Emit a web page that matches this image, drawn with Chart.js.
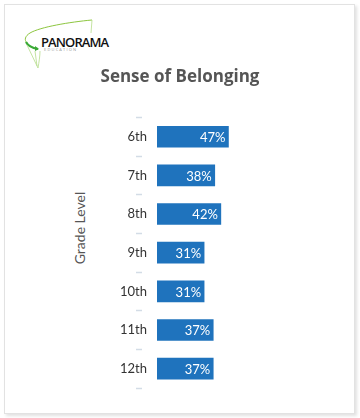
<!DOCTYPE html>
<html>
<head>
<meta charset="utf-8">
<script src="https://cdn.jsdelivr.net/npm/chart.js@4"></script>
<style>
  html, body { margin: 0; padding: 0; background: #fff; }
  body { width: 360px; height: 418px; position: relative; overflow: hidden; font-family: "Open Sans", sans-serif; }
  .card { position: absolute; left: 4px; top: 4px; width: 349px; height: 408px; background: #fff;
          border: 1px solid #e2e2e2; box-shadow: 2px 2px 3px rgba(0,0,0,0.12); }
  .logo { position: absolute; left: 0; top: 0; }
  .logo-name { position: absolute; left: 41px; top: 33px; font: 600 13px "Open Sans", sans-serif; color: #111; letter-spacing: -0.9px; }
  .logo-sub { position: absolute; left: 44px; top: 47px; font: 4px "Open Sans", sans-serif; color: #999; letter-spacing: 1.2px; }
  .ytitle { position: absolute; left: 79px; top: 228px; transform: translate(-50%, -50%) rotate(-90deg);
            font: 14px Lato, sans-serif; color: #555; white-space: nowrap; }
  #chart { position: absolute; left: 0; top: 0; }
</style>
</head>
<body>
<div class="card"></div>
<svg class="logo" width="120" height="80" viewBox="0 0 120 80">
  <path d="M92 20 C70 22 40 27 30 33 C25 36 24 40 27 43" fill="none" stroke="#8dc63f" stroke-width="1"/>
  <path d="M26 42 C28 46 32 48 38 49" fill="none" stroke="#3aa935" stroke-width="2.2"/>
  <path d="M35 46 L39 49 L35 51 Z" fill="#3aa935"/>
  <path d="M92 20 L91 33" fill="none" stroke="#b5dc8a" stroke-width="0.8"/>
  <path d="M27 45 L38 68" fill="none" stroke="#b5dc8a" stroke-width="0.8"/>
  <path d="M35 51 L37 66" fill="none" stroke="#b5dc8a" stroke-width="0.8"/>
  <path d="M38 68 C39 62 40 56 40 51" fill="none" stroke="#b5dc8a" stroke-width="0.8"/>
</svg>
<div class="logo-name">PANORAMA</div>
<div class="logo-sub">EDUCATION</div>
<div class="ytitle">Grade Level</div>
<canvas id="chart" width="360" height="418"></canvas>
<script>
const grades = ['6th', '7th', '8th', '9th', '10th', '11th', '12th'];
const belonging = [47, 38, 42, 31, 31, 37, 37];

// white percentage labels inside the right end of each bar
const barLabels = {
  id: 'barLabels',
  afterDatasetsDraw(chart) {
    const ctx = chart.ctx;
    const meta = chart.getDatasetMeta(0);
    ctx.save();
    ctx.font = '13px Lato, sans-serif';
    ctx.fillStyle = '#ffffff';
    ctx.textAlign = 'right';
    ctx.textBaseline = 'middle';
    meta.data.forEach((bar, i) => {
      ctx.fillText(belonging[i] + '%', bar.x - 3, bar.y + 1);
    });
    ctx.restore();
  }
};

new Chart(document.getElementById('chart'), {
  type: 'bar',
  data: {
    labels: grades,
    datasets: [{
      label: 'Sense of Belonging',
      data: belonging,
      backgroundColor: '#1f73bd',
      borderWidth: 0,
      barThickness: 21
    }]
  },
  plugins: [barLabels],
  options: {
    indexAxis: 'y',
    responsive: false,
    animation: false,
    layout: { padding: { top: 66, left: 51, right: 51, bottom: 30 } },
    scales: {
      x: { display: false, min: 0, max: 100 },
      y: {
        border: { display: false },
        grid: {
          offset: true,
          drawOnChartArea: false,
          drawTicks: true,
          tickLength: 21,
          tickBorderDash: [6, 40],
          tickColor: '#d3dce6',
          tickWidth: 1.5
        },
        ticks: { padding: -11, color: '#333', font: { family: 'Lato', size: 13 } },
        afterFit(scale) { scale.width = 106; }
      }
    },
    plugins: {
      legend: { display: false },
      tooltip: { enabled: false },
      title: {
        display: true,
        text: 'Sense of Belonging',
        color: '#555',
        font: { family: 'Open Sans', size: 17, weight: 'bold' },
        padding: { top: 1, bottom: 30 }
      }
    }
  }
});
</script>
</body>
</html>
